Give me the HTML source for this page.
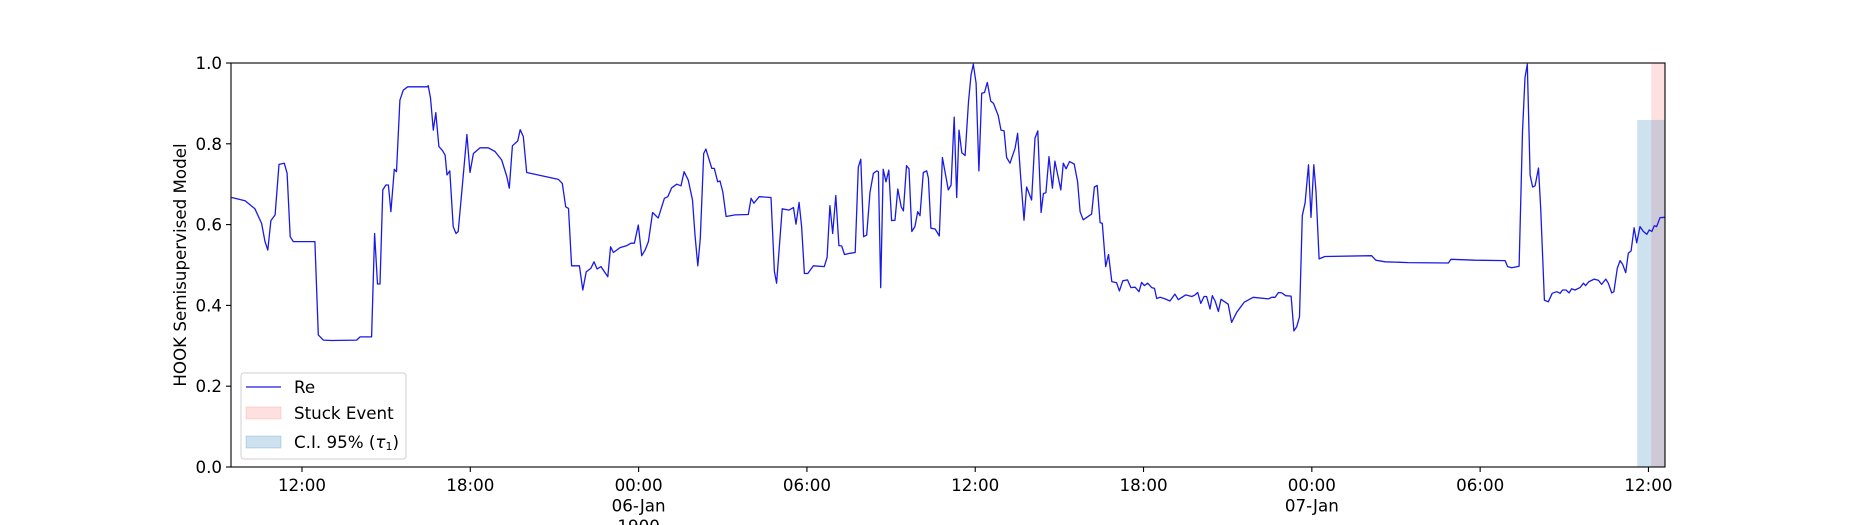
<!DOCTYPE html>
<html><head><meta charset="utf-8"><style>
html,body{margin:0;padding:0;background:#fff;}
svg{display:block;font-family:"DejaVu Sans","Liberation Sans",sans-serif;}
</style></head><body>
<svg id="chart" width="1850" height="525" viewBox="0 0 1850 525" xmlns="http://www.w3.org/2000/svg">
<rect width="1850" height="525" fill="#fff"/>
<g id="plot"></g>
<g id="axes"></g>
</svg>
<script>
const times = [9.49,9.97,10.32,10.56,10.68,10.78,10.89,11.04,11.18,11.37,11.47,11.58,11.69,12.46,12.58,12.76,13.06,13.95,14.07,14.48,14.59,14.69,14.78,14.88,14.99,15.08,15.17,15.29,15.37,15.49,15.61,15.77,16.03,16.47,16.5,16.58,16.68,16.77,16.88,17.0,17.1,17.17,17.27,17.39,17.49,17.57,17.75,17.88,17.99,18.11,18.35,18.64,18.88,19.12,19.3,19.39,19.5,19.69,19.78,19.89,20.01,21.14,21.28,21.4,21.5,21.61,21.89,22.01,22.13,22.3,22.41,22.52,22.66,22.9,23.0,23.1,23.34,23.58,23.73,23.85,23.99,24.11,24.23,24.35,24.5,24.7,24.92,25.04,25.18,25.36,25.51,25.62,25.77,25.92,26.01,26.11,26.2,26.32,26.4,26.61,26.7,26.82,26.9,27.0,27.12,27.44,27.91,28.01,28.11,28.3,28.72,28.84,28.92,29.12,29.36,29.52,29.61,29.72,29.81,29.91,30.03,30.23,30.62,30.72,30.82,30.92,31.03,31.14,31.24,31.34,31.54,31.72,31.83,31.92,32.02,32.13,32.25,32.37,32.49,32.55,32.63,32.72,32.82,32.92,33.02,33.14,33.24,33.36,33.44,33.55,33.64,33.74,33.85,33.95,34.03,34.15,34.27,34.33,34.42,34.57,34.72,34.83,35.04,35.14,35.25,35.34,35.42,35.52,35.64,35.76,35.85,35.93,36.03,36.13,36.23,36.33,36.43,36.55,36.65,36.82,36.92,37.03,37.12,37.24,37.42,37.51,37.63,37.74,37.83,38.01,38.13,38.23,38.35,38.43,38.52,38.63,38.75,38.84,39.05,39.14,39.24,39.36,39.53,39.65,39.74,39.85,40.15,40.25,40.35,40.45,40.53,40.65,40.75,40.87,41.04,41.14,41.26,41.43,41.55,41.70,41.84,41.93,42.03,42.15,42.29,42.39,42.47,42.59,42.77,42.94,43.12,43.24,43.50,43.72,43.84,43.93,44.04,44.16,44.25,44.37,44.45,44.55,44.67,44.76,45.02,45.14,45.32,45.59,45.91,46.45,46.57,46.69,46.81,46.93,47.07,47.26,47.36,47.46,47.56,47.66,47.76,47.88,47.97,48.07,48.15,48.26,48.47,50.13,50.28,50.61,51.44,52.87,52.96,53.82,54.89,54.98,55.13,55.39,55.51,55.6,55.68,55.78,55.87,55.96,56.08,56.16,56.29,56.43,56.57,56.73,56.85,56.94,57.06,57.17,57.26,57.38,57.56,57.68,57.76,57.88,58.07,58.22,58.33,58.48,58.57,58.69,58.77,58.89,58.99,59.08,59.19,59.28,59.38,59.49,59.58,59.70,59.82,59.94,60.03,60.12,60.21,60.29,60.41,60.59];
const values = [0.667,0.659,0.639,0.603,0.558,0.537,0.61,0.624,0.749,0.752,0.727,0.570,0.558,0.558,0.327,0.314,0.313,0.314,0.322,0.322,0.578,0.453,0.453,0.686,0.698,0.698,0.632,0.737,0.731,0.908,0.933,0.941,0.941,0.941,0.944,0.913,0.834,0.877,0.793,0.784,0.772,0.723,0.733,0.595,0.578,0.583,0.723,0.823,0.729,0.776,0.790,0.790,0.781,0.760,0.719,0.690,0.795,0.807,0.835,0.818,0.729,0.712,0.702,0.644,0.640,0.498,0.498,0.438,0.483,0.492,0.508,0.490,0.496,0.471,0.545,0.531,0.543,0.548,0.554,0.554,0.599,0.523,0.537,0.558,0.630,0.616,0.665,0.669,0.691,0.700,0.696,0.731,0.710,0.661,0.574,0.498,0.566,0.776,0.787,0.739,0.739,0.706,0.708,0.681,0.620,0.624,0.625,0.665,0.653,0.669,0.667,0.484,0.455,0.639,0.636,0.642,0.601,0.655,0.595,0.479,0.479,0.498,0.496,0.519,0.647,0.578,0.672,0.548,0.547,0.526,0.529,0.531,0.742,0.762,0.570,0.574,0.680,0.727,0.733,0.731,0.444,0.737,0.706,0.735,0.610,0.611,0.688,0.644,0.634,0.746,0.738,0.583,0.595,0.632,0.622,0.729,0.733,0.715,0.591,0.589,0.572,0.766,0.686,0.698,0.866,0.667,0.834,0.778,0.771,0.904,0.970,0.997,0.95,0.733,0.925,0.927,0.952,0.906,0.900,0.870,0.834,0.832,0.766,0.752,0.789,0.826,0.710,0.611,0.693,0.661,0.814,0.832,0.630,0.677,0.679,0.768,0.690,0.757,0.686,0.752,0.738,0.756,0.750,0.706,0.632,0.612,0.626,0.693,0.697,0.605,0.603,0.496,0.526,0.459,0.456,0.436,0.461,0.463,0.444,0.445,0.434,0.457,0.449,0.455,0.444,0.442,0.417,0.420,0.416,0.411,0.428,0.414,0.426,0.422,0.426,0.432,0.405,0.422,0.422,0.391,0.424,0.411,0.385,0.415,0.403,0.358,0.383,0.408,0.420,0.416,0.420,0.420,0.432,0.431,0.424,0.423,0.337,0.347,0.372,0.622,0.654,0.748,0.618,0.748,0.682,0.515,0.521,0.523,0.512,0.508,0.506,0.505,0.514,0.512,0.511,0.496,0.493,0.497,0.830,0.964,0.997,0.723,0.693,0.696,0.740,0.640,0.413,0.409,0.430,0.434,0.430,0.438,0.438,0.431,0.441,0.438,0.444,0.455,0.449,0.459,0.465,0.462,0.452,0.465,0.455,0.431,0.434,0.492,0.511,0.502,0.481,0.529,0.535,0.592,0.555,0.595,0.583,0.576,0.587,0.583,0.597,0.595,0.617,0.618];
const xTickHours = [12,18,24,30,36,42,48,54,60];
const xTickLabels = [["12:00"],["18:00"],["00:00","06-Jan","1900"],["06:00"],["12:00"],["18:00"],["00:00","07-Jan"],["06:00"],["12:00"]];
const yTicks = [0,0.2,0.4,0.6,0.8,1.0];
const yTickLabels = ["0.0","0.2","0.4","0.6","0.8","1.0"];
const ciSpan = [59.6, 60.59, 0.859];
const stuckSpan = [60.1, 60.59, 1.0];
const xDomain = [9.469, 60.59];

const L=231,R=1665,T=63,B=467;
const NS="http://www.w3.org/2000/svg";
function sx(h){return L+(h-xDomain[0])/(xDomain[1]-xDomain[0])*(R-L);}
function sy(v){return B-v*(B-T);}
function mk(tag,attrs,parent){const e=document.createElementNS(NS,tag);for(const k in attrs)e.setAttribute(k,attrs[k]);parent.appendChild(e);return e;}
const plot=document.getElementById('plot');
const axes=document.getElementById('axes');

const st=mk('rect',{x:sx(stuckSpan[0]),y:sy(stuckSpan[2]),width:sx(stuckSpan[1])-sx(stuckSpan[0]),height:sy(0)-sy(stuckSpan[2]),fill:'rgba(255,0,0,0.12)'},plot);


const ci=mk('rect',{x:sx(ciSpan[0]),y:sy(ciSpan[2]),width:sx(ciSpan[1])-sx(ciSpan[0]),height:sy(0)-sy(ciSpan[2]),fill:'rgba(31,119,180,0.22)'},plot);



let d='';
for(let i=0;i<times.length;i++){d+=(i?'L':'M')+sx(times[i]).toFixed(1)+','+sy(values[i]).toFixed(1);}
const line=mk('path',{d:d,fill:'none',stroke:'#1a1ae6','stroke-width':1.3,'stroke-linejoin':'round'},plot);



const frame=mk('rect',{x:L,y:T,width:R-L,height:B-T,fill:'none',stroke:'#000','stroke-width':1.1},axes);



xTickHours.forEach((h,i)=>{
  const x=sx(h);
  const t=mk('line',{x1:x,y1:B,x2:x,y2:B+5,stroke:'#000','stroke-width':1.1},axes);
  
  
  xTickLabels[i].forEach((s,j)=>{
    const tx=mk('text',{x:x,y:485+j*20.5,'text-anchor':'middle','dominant-baseline':'central','font-size':'16.7px',fill:'#000'},axes);
    tx.textContent=s;
    
    
  });
});
yTicks.forEach((v,i)=>{
  const y=sy(v);
  const t=mk('line',{x1:L-5,y1:y,x2:L,y2:y,stroke:'#000','stroke-width':1.1},axes);
  
  
  const tx=mk('text',{x:L-9,y:y,'text-anchor':'end','dominant-baseline':'central','font-size':'16.7px',fill:'#000'},axes);
  tx.textContent=yTickLabels[i];
  
  
});
const yl=mk('text',{x:0,y:0,transform:'translate(180,265) rotate(-90)','text-anchor':'middle','dominant-baseline':'central','font-size':'16.7px',fill:'#000'},axes);
yl.textContent='HOOK Semisupervised Model';



const lg=mk('g',{},axes);


mk('rect',{x:241,y:373,width:165,height:86,rx:3,fill:'rgba(255,255,255,0.8)',stroke:'#d0d0d0','stroke-width':1},lg);
const e1=mk('line',{x1:246,y1:387,x2:281,y2:387,stroke:'#1a1ae6','stroke-width':1.3},lg);


const e2=mk('rect',{x:246,y:407,width:35,height:12,fill:'rgba(255,0,0,0.12)',stroke:'rgba(255,0,0,0.12)'},lg);


const e3=mk('rect',{x:246,y:436,width:35,height:12,fill:'rgba(31,119,180,0.22)',stroke:'rgba(31,119,180,0.22)'},lg);


[['Re',387,'legend-re-label'],['Stuck Event',413,'legend-stuck-label']].forEach(a=>{
  const t=mk('text',{x:294,y:a[1],'dominant-baseline':'central','font-size':'16.7px',fill:'#000'},lg);
  t.textContent=a[0];
  
  
});
const ct=mk('text',{x:294,y:442,'dominant-baseline':'central','font-size':'16.7px',fill:'#000'},lg);


ct.innerHTML='C.I. 95% (<tspan font-style="italic">τ</tspan><tspan font-size="11px" dy="4">1</tspan><tspan dy="-4">)</tspan>';
</script>
</body></html>
